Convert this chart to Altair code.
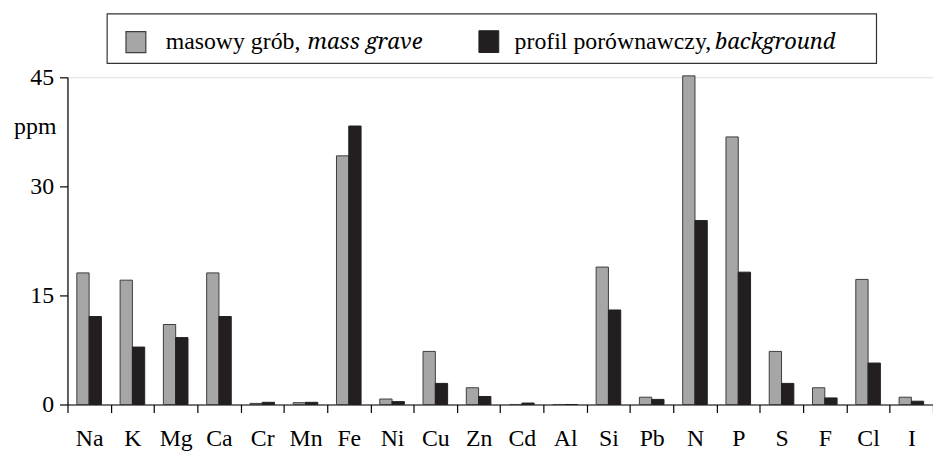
import altair as alt
import pandas as pd

elements = ["Na", "K", "Mg", "Ca", "Cr", "Mn", "Fe", "Ni", "Cu", "Zn",
            "Cd", "Al", "Si", "Pb", "N", "P", "S", "F", "Cl", "I"]
mass_grave = [18.1, 17.1, 11.0, 18.1, 0.15, 0.25, 34.2, 0.75, 7.3, 2.3,
              0.0, 0.0, 18.9, 1.0, 45.2, 36.8, 7.3, 2.3, 17.2, 1.0]
background = [12.1, 7.9, 9.2, 12.1, 0.3, 0.3, 38.3, 0.4, 2.9, 1.1,
              0.2, 0.0, 13.0, 0.7, 25.3, 18.2, 2.9, 0.9, 5.7, 0.45]
series_names = ["masowy grób", "profil porównawczy"]
y_ticks = [0, 15, 30, 45]

FONT = "Liberation Serif"
ITALIC_FONT = "Noto Serif"
GRAY = "#a6a6a6"
DARK = "#231f20"
EDGE = "#3d3d3d"

df = pd.DataFrame({
    "el": elements * 2,
    "series": [series_names[0]] * len(elements) + [series_names[1]] * len(elements),
    "value": mass_grave + background,
})

bars = alt.Chart(df).mark_bar(strokeWidth=1).encode(
    x=alt.X("el:N", sort=elements,
            scale=alt.Scale(paddingInner=0, paddingOuter=0),
            axis=alt.Axis(title=None, labelAngle=0, tickBand="extent", tickSize=8,
                          labelPadding=26, labelBaseline="middle", labelFontSize=24,
                          labelFont=FONT, labelColor="black",
                          domainColor="black", tickColor="black",
                          domainWidth=1.2, tickWidth=1.2)),
    xOffset=alt.XOffset("series:N", sort=series_names,
                        scale=alt.Scale(paddingInner=0, paddingOuter=0.76)),
    y=alt.Y("value:Q", scale=alt.Scale(domain=[0, 45], nice=False),
            axis=alt.Axis(values=y_ticks, title="ppm", titleAngle=0,
                          titleX=-33, titleY=50, titleAlign="center",
                          titleBaseline="middle", titleFontSize=24,
                          titleFontWeight="normal", titleFont=FONT, titleColor="black",
                          tickSize=8, labelPadding=6, grid=False,
                          labelFontSize=24, labelFont=FONT, labelColor="black",
                          domainColor="black", tickColor="black",
                          domainWidth=1.2, tickWidth=1.2)),
    fill=alt.Fill("series:N", scale=alt.Scale(domain=series_names, range=[GRAY, DARK]),
                  legend=None),
    stroke=alt.Stroke("series:N", scale=alt.Scale(domain=series_names, range=[EDGE, DARK]),
                      legend=None),
)

one = pd.DataFrame({"k": [0]})

legend_box = alt.Chart(one).mark_rect(fill="white", stroke="#333333", strokeWidth=1.2).encode(
    x=alt.value(40), x2=alt.value(816), y=alt.value(-64), y2=alt.value(-14))
sq1 = alt.Chart(one).mark_rect(fill=GRAY, stroke=EDGE, strokeWidth=1.2).encode(
    x=alt.value(59), x2=alt.value(79), y=alt.value(-46), y2=alt.value(-25))
sq2 = alt.Chart(one).mark_rect(fill=DARK, stroke=DARK, strokeWidth=1).encode(
    x=alt.value(415), x2=alt.value(435), y=alt.value(-47), y2=alt.value(-25))


def txt(s, x, italic=False):
    return alt.Chart(one).mark_text(
        text=s, font=ITALIC_FONT if italic else FONT, fontSize=22 if italic else 24,
        align="left", baseline="alphabetic",
        fontStyle="italic" if italic else "normal", color="black"
    ).encode(x=alt.value(x), y=alt.value(-29))


t1 = txt("masowy grób,", 99)
t2 = txt("mass grave", 242, True)
t3 = txt("profil porównawczy,", 451)
t4 = txt("background", 653, True)

chart = alt.layer(bars, legend_box, sq1, sq2, t1, t2, t3, t4).properties(
    width=873, height=330,
    padding={"left": 60, "top": 68, "right": 0, "bottom": 45},
    autosize=alt.AutoSizeParams(type="none"),
).configure_view(stroke=None).configure(font=FONT, background="white")

chart.save("out.html", embed_options={"renderer": "svg", "actions": False})
